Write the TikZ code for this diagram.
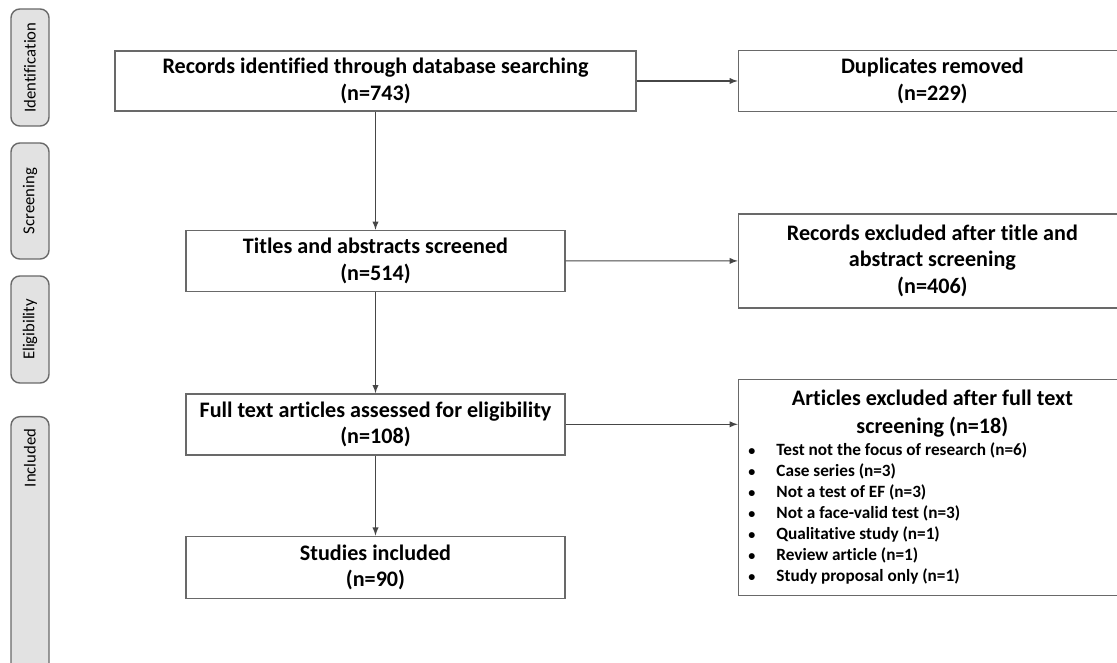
\documentclass[tikz,border=0pt]{standalone}
\usepackage{fontspec}
\setmainfont{Carlito}[Ligatures=NoCommon]
\usetikzlibrary{positioning,arrows}
\definecolor{boxgray}{RGB}{105,105,105}
\definecolor{linegray}{RGB}{70,70,70}
\definecolor{phasefill}{RGB}{226,226,226}
\newcommand{\exclbullet}{\makebox[0.56cm][l]{\fontsize{8}{8}\selectfont\textbullet}}
\newcommand{\exclitem}[1]{\exclbullet#1\\}
\tikzset{
>=latex,
  flowbox/.style={
    rectangle,
    draw=boxgray, line width=0.8pt,
    minimum width=7.58cm,
    minimum height=1.22cm,
    align=flush center,
    font=\bfseries\fontsize{12.6}{15}\selectfont},
  sidebox/.style={
    flowbox,
    minimum width=7.76cm},
  phase/.style={
    rectangle,
    rounded corners=5pt,
    draw=boxgray, line width=0.8pt,
    fill=phasefill,
    rotate=90,
    minimum height=0.76cm,
    font=\fontsize{9.5}{12}\selectfont},
  line/.style={draw, line width=0.6pt, linegray, ->}
}
\begin{document}
\begin{tikzpicture}
  \useasboundingbox (0,0) rectangle (22.34,-13.26);

  % phases
  \node[phase, minimum width=2.34cm] (identification) at (0.6,-1.35) {Identification};
  \node[phase, minimum width=2.32cm] (screening) at (0.6,-4.02) {Screening};
  \node[phase, minimum width=2.14cm] (eligibility) at (0.6,-6.59) {Eligibility};
  \node[phase, minimum width=5.4cm, text width=4.92cm, inner xsep=0.24cm,
    align=flush right, anchor=east] (included) at (0.6,-8.32) {Included};

  % main flow
  \node[flowbox, minimum width=10.42cm, minimum height=1.2cm] (records) at (7.51,-1.62)
    {Records identified through database searching\\(n=743)};
  \node[flowbox, below=2.36cm of records] (titles)
    {Titles and abstracts screened\\(n=514)};
  \node[flowbox, below=2.02cm of titles] (fulltext)
    {Full text articles assessed for eligibility\\(n=108)};
  \node[flowbox, below=1.6cm of fulltext, minimum height=1.24cm] (studies)
    {Studies included\\(n=90)};

  % exclusions
  \node[sidebox, right=2.02cm of records] (duplicates)
    {Duplicates removed\\(n=229)};
  \node[sidebox, below=2.02cm of duplicates, minimum height=1.88cm] (recexcl)
    {Records excluded after title and\\abstract screening\\(n=406)};
  \node[sidebox, below=1.4cm of recexcl, minimum height=4.32cm,
    text width=7.36cm, inner xsep=0.2cm, align=flush left] (artexcl)
    {{\centering\fontsize{12.6}{16}\selectfont Articles excluded after full text\\screening (n=18)\par}
     \fontsize{9.8}{12}\selectfont
     \exclitem{Test not the focus of research (n=6)}
     \exclitem{Case series (n=3)}
     \exclitem{Not a test of EF (n=3)}
     \exclitem{Not a face-valid test (n=3)}
     \exclitem{Qualitative study (n=1)}
     \exclitem{Review article (n=1)}
     \exclbullet Study proposal only (n=1)\par};

  % connectors
  \path[line] (records) -- (titles);
  \path[line] (titles) -- (fulltext);
  \path[line] (fulltext) -- (studies);
  \path[line] (records) -- (duplicates);
  \path[line] (titles) -- (recexcl);
  \path[line] (fulltext) -- (fulltext -| artexcl.west);
\end{tikzpicture}
\end{document}
